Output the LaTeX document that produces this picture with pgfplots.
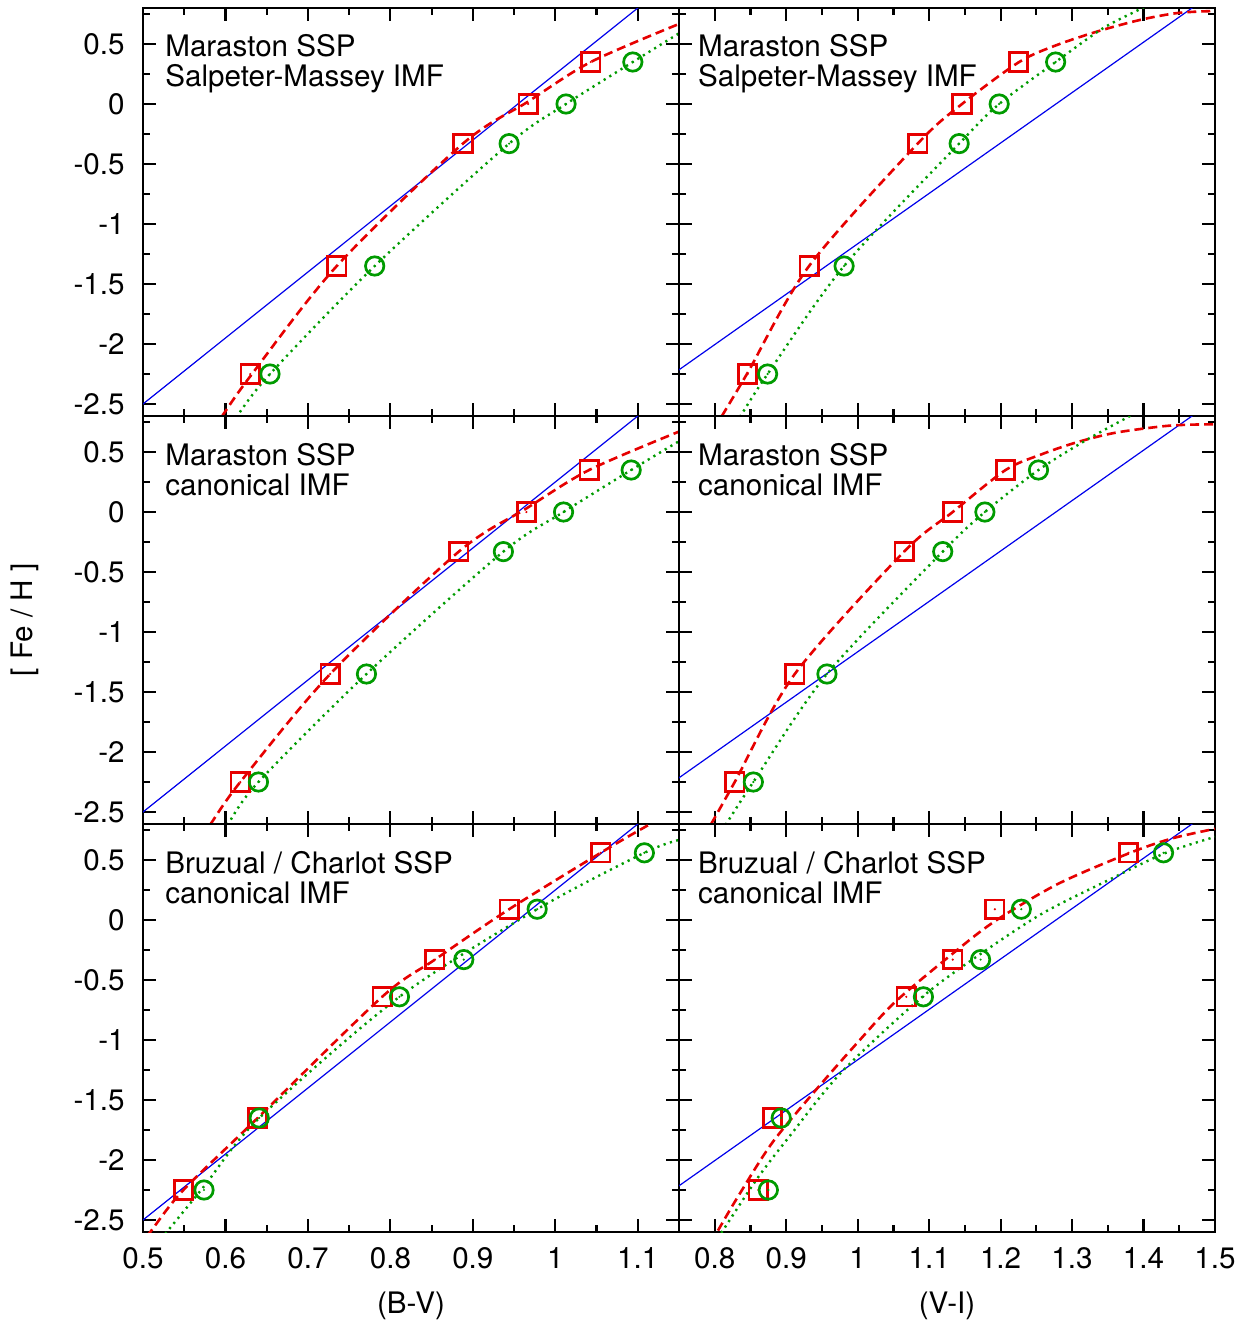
\documentclass[border=0pt]{standalone}
\usepackage{fontspec}
\setmainfont{TeX Gyre Heros}
\usepackage{pgfplots}
\pgfplotsset{compat=1.18}
\definecolor{myred}{RGB}{230,0,0}
\definecolor{mygreen}{RGB}{0,155,0}
\definecolor{myblue}{RGB}{0,0,235}
\pgfdeclareplotmark{sqdot}{%
  \pgfpathrectangle{\pgfpoint{-\pgfplotmarksize}{-\pgfplotmarksize}}{\pgfpoint{2\pgfplotmarksize}{2\pgfplotmarksize}}%
  \pgfusepathqstroke
  \pgfpathcircle{\pgfpointorigin}{0.6pt}%
  \pgfusepathqfill}
\pgfdeclareplotmark{odot}{%
  \pgfpathcircle{\pgfpointorigin}{\pgfplotmarksize}%
  \pgfusepathqstroke
  \pgfpathcircle{\pgfpointorigin}{0.6pt}%
  \pgfusepathqfill}
\newcommand{\fs}{\fontsize{14.8pt}{15pt}\selectfont}
\tikzset{lab/.style={anchor=north west, align=left, inner sep=0pt, font=\fs}}
\pgfplotsset{
  panel/.style={
    scale only axis, width=268pt, height=204pt,
    ymin=-2.6, ymax=0.8,
    ytick={-2.5,-2,-1.5,-1,-0.5,0,0.5},
    minor ytick={-2.25,-1.75,-1.25,-0.75,-0.25,0.25,0.75},
    minor x tick num=1,
    tick align=inside,
    major tick length=6.5pt, minor tick length=3.5pt,
    tick style={line width=1.1pt, black},
    axis line style={line width=1.2pt},
    /pgf/number format/assume math mode=true,
    tick label style={font=\fs},
    yticklabel style={inner sep=0pt, xshift=-9pt},
    xticklabel style={inner sep=0pt, yshift=-7.5pt},
  },
  leftcol/.style={xmin=0.5, xmax=1.15, xtick={0.5,0.6,0.7,0.8,0.9,1,1.1}},
  rightcol/.style={xmin=0.75, xmax=1.5, xtick={0.8,0.9,1,1.1,1.2,1.3,1.4,1.5}, yticklabels={}},
  nox/.style={xticklabels={}},
  redc/.style={draw=myred, line width=1.3pt, dash pattern=on 4.5pt off 2.5pt, smooth, mark=none},
  greenc/.style={draw=mygreen, line width=1.2pt, dash pattern=on 1.1pt off 2.2pt, smooth, mark=none},
  bluec/.style={draw=myblue, line width=0.6pt, mark=none},
  redm/.style={only marks, mark=sqdot, mark size=4.6pt, mark options={draw=myred, fill=myred, line width=1.35pt, solid}},
  greenm/.style={only marks, mark=odot, mark size=4.6pt, mark options={draw=mygreen, fill=mygreen, line width=1.35pt, solid}},
}
\begin{document}
\begin{tikzpicture}[font=\fs]
\path[use as bounding box] (0,0) rectangle (620.5pt,-662pt);

% ---------- top left ----------
\begin{axis}[panel, leftcol, nox, at={(71.5pt,-4pt)}, anchor=north west]
\addplot[bluec] coordinates {(0.48,-2.61) (1.12,0.91)};
\addplot[redc] coordinates {(0.586,-2.7) (0.596,-2.6) (0.630,-2.27) (0.735,-1.35) (0.888,-0.33) (0.967,0.02) (1.043,0.35) (1.15,0.667)};
\addplot[greenc] coordinates {(0.603,-2.7) (0.614,-2.6) (0.654,-2.25) (0.781,-1.35) (0.944,-0.33) (1.013,0.0) (1.094,0.35) (1.15,0.589)};
\addplot[redm] coordinates {(0.630,-2.25) (0.735,-1.35) (0.888,-0.33) (0.967,0.0) (1.043,0.35)};
\addplot[greenm] coordinates {(0.654,-2.25) (0.781,-1.35) (0.944,-0.33) (1.013,0.0) (1.094,0.35)};
\node[lab] at (rel axis cs:0.041,0.937) {Maraston SSP\\Salpeter-Massey IMF};
\end{axis}

% ---------- top right ----------
\begin{axis}[panel, rightcol, nox, at={(339.5pt,-4pt)}, anchor=north west]
\addplot[bluec] coordinates {(0.74,-2.257) (1.5,0.935)};
\addplot[redc] coordinates {(0.80,-2.7) (0.81,-2.6) (0.846,-2.24) (0.932,-1.35) (1.084,-0.33) (1.146,0.0) (1.226,0.35) (1.278,0.49) (1.339,0.611) (1.399,0.706) (1.45,0.76) (1.5,0.775)};
\addplot[greenc] coordinates {(0.825,-2.7) (0.836,-2.6) (0.874,-2.25) (0.981,-1.35) (1.142,-0.33) (1.198,0.0) (1.277,0.35) (1.343,0.63) (1.395,0.79) (1.41,0.84)};
\addplot[redm] coordinates {(0.846,-2.25) (0.932,-1.35) (1.084,-0.33) (1.146,0.0) (1.225,0.35)};
\addplot[greenm] coordinates {(0.874,-2.25) (0.981,-1.35) (1.142,-0.33) (1.198,0.0) (1.277,0.35)};
\node[lab] at (rel axis cs:0.035,0.937) {Maraston SSP\\Salpeter-Massey IMF};
\end{axis}

% ---------- middle left ----------
\begin{axis}[panel, leftcol, nox, at={(71.5pt,-208pt)}, anchor=north west]
\addplot[bluec] coordinates {(0.48,-2.61) (1.12,0.91)};
\addplot[redc] coordinates {(0.572,-2.7) (0.582,-2.6) (0.618,-2.25) (0.727,-1.35) (0.883,-0.33) (0.965,0.03) (1.041,0.35) (1.15,0.67)};
\addplot[greenc] coordinates {(0.593,-2.7) (0.603,-2.6) (0.640,-2.25) (0.771,-1.35) (0.937,-0.33) (1.010,0.0) (1.092,0.35) (1.15,0.59)};
\addplot[redm] coordinates {(0.618,-2.25) (0.727,-1.35) (0.883,-0.33) (0.965,0.0) (1.041,0.35)};
\addplot[greenm] coordinates {(0.640,-2.25) (0.771,-1.35) (0.937,-0.33) (1.010,0.0) (1.092,0.35)};
\node[lab] at (rel axis cs:0.041,0.935) {Maraston SSP\\canonical IMF};
\end{axis}

% ---------- middle right ----------
\begin{axis}[panel, rightcol, nox, at={(339.5pt,-208pt)}, anchor=north west]
\addplot[bluec] coordinates {(0.74,-2.257) (1.5,0.935)};
\addplot[redc] coordinates {(0.785,-2.7) (0.795,-2.6) (0.828,-2.25) (0.912,-1.35) (1.065,-0.33) (1.133,0.0) (1.207,0.35) (1.257,0.48) (1.306,0.58) (1.36,0.66) (1.428,0.715) (1.467,0.728) (1.5,0.73)};
\addplot[greenc] coordinates {(0.805,-2.7) (0.816,-2.6) (0.854,-2.25) (0.957,-1.35) (1.119,-0.33) (1.178,0.0) (1.253,0.35) (1.32,0.6) (1.381,0.8) (1.40,0.86)};
\addplot[redm] coordinates {(0.828,-2.25) (0.912,-1.35) (1.065,-0.33) (1.133,0.0) (1.207,0.35)};
\addplot[greenm] coordinates {(0.854,-2.25) (0.957,-1.35) (1.119,-0.33) (1.178,0.0) (1.253,0.35)};
\node[lab] at (rel axis cs:0.035,0.935) {Maraston SSP\\canonical IMF};
\end{axis}

% ---------- bottom left ----------
\begin{axis}[panel, leftcol, at={(71.5pt,-412pt)}, anchor=north west]
\addplot[bluec] coordinates {(0.48,-2.61) (1.12,0.91)};
\addplot[redc] coordinates {(0.505,-2.64) (0.511,-2.58) (0.549,-2.25) (0.639,-1.65) (0.790,-0.64) (0.854,-0.33) (0.944,0.09) (1.055,0.56) (1.11,0.78) (1.13,0.85)};
\addplot[greenc] coordinates {(0.522,-2.66) (0.530,-2.59) (0.574,-2.22) (0.641,-1.65) (0.811,-0.64) (0.978,0.09) (1.108,0.56) (1.15,0.667)};
\addplot[redm] coordinates {(0.549,-2.25) (0.639,-1.65) (0.790,-0.64) (0.854,-0.33) (0.944,0.09) (1.055,0.56)};
\addplot[greenm] coordinates {(0.574,-2.25) (0.641,-1.65) (0.811,-0.64) (0.889,-0.33) (0.978,0.09) (1.108,0.56)};
\node[lab] at (rel axis cs:0.041,0.935) {Bruzual / Charlot SSP\\canonical IMF};
\end{axis}

% ---------- bottom right ----------
\begin{axis}[panel, rightcol, at={(339.5pt,-412pt)}, anchor=north west]
\addplot[bluec] coordinates {(0.74,-2.257) (1.5,0.935)};
\addplot[redc] coordinates {(0.795,-2.69) (0.805,-2.583) (0.832,-2.31) (0.88,-1.86) (0.941,-1.42) (1.000,-1.02) (1.053,-0.68) (1.133,-0.28) (1.192,-0.01) (1.28,0.30) (1.380,0.557) (1.44,0.68) (1.5,0.76)};
\addplot[greenc] coordinates {(0.799,-2.7) (0.81,-2.6) (0.86,-2.15) (0.905,-1.80) (0.978,-1.264) (1.092,-0.633) (1.18,-0.25) (1.26,0.06) (1.35,0.33) (1.430,0.557) (1.5,0.693)};
\addplot[redm] coordinates {(0.861,-2.25) (0.881,-1.65) (1.068,-0.64) (1.133,-0.33) (1.192,0.09) (1.379,0.56)};
\addplot[greenm] coordinates {(0.875,-2.25) (0.893,-1.65) (1.092,-0.64) (1.172,-0.33) (1.229,0.09) (1.428,0.56)};
\node[lab] at (rel axis cs:0.035,0.935) {Bruzual / Charlot SSP\\canonical IMF};
\end{axis}

\node at (205.5pt,-653pt) {(B-V)};
\node at (473.5pt,-653pt) {(V-I)};
\node[rotate=90] at (12.5pt,-310pt) {[ Fe / H ]};
\end{tikzpicture}
\end{document}
